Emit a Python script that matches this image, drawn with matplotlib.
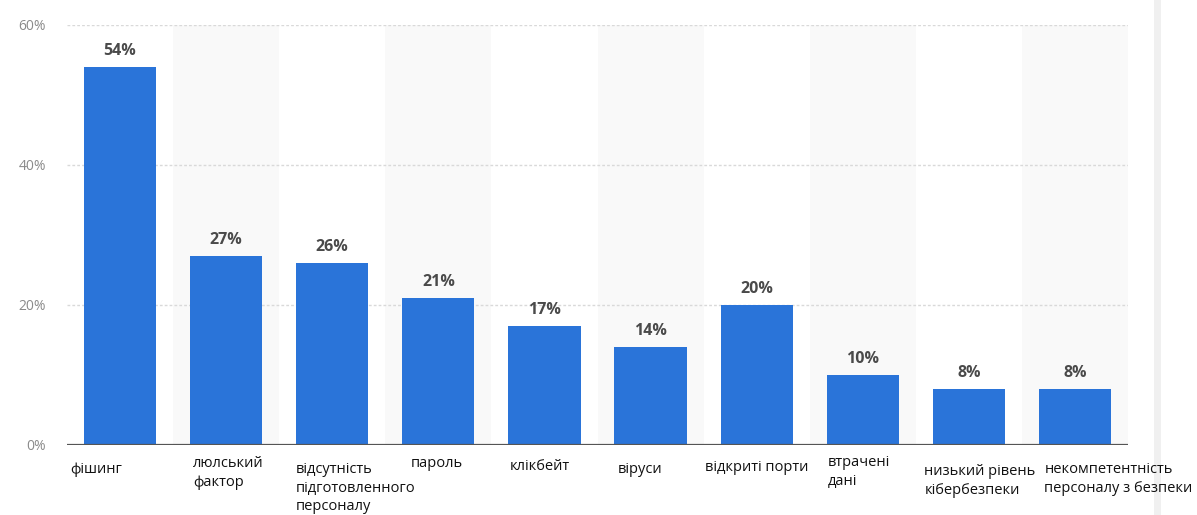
import matplotlib.pyplot as plt

plt.rcParams['font.family'] = ['Open Sans', 'DejaVu Sans']

# categories (Ukrainian labels) and values in percent
categories = [
    "фішинг",
    "люлський\nфактор",
    "відсутність\nпідготовленного\nперсоналу",
    "пароль",
    "клікбейт",
    "віруси",
    "відкриті порти",
    "втрачені\nдані",
    "низький рівень\nкібербезпеки",
    "некомпетентність\nперсоналу з безпеки",
]
values = [54, 27, 26, 21, 17, 14, 20, 10, 8, 8]
yticks = [0, 20, 40, 60]

# horizontal nudges (points) for the category labels, relative to bar left edge
label_dx = [-10, 2, 0, 6, 1, 2, -11, 1, -6, 4]
label_dy = [-1, 3, -1, 3, 1, -1, 0, 4, -3, -1]

fig = plt.figure(figsize=(11.97, 5.15), dpi=100)

# faint edge on the right of the screenshot (behind everything)
fig.add_artist(plt.Line2D([1157 / 1197, 1157 / 1197], [0, 1], color='#f0f0f0',
                          lw=5, transform=fig.transFigure, zorder=-5))

ax = fig.add_axes([67 / 1197, 70 / 515, (1128 - 67) / 1197, 420 / 515])
ax.patch.set_visible(False)

x = list(range(len(categories)))
bar_w = 0.68

# light alternating background bands
for i in x:
    if i % 2 == 1:
        ax.axvspan(i - 0.5, i + 0.5, color='#f9f9f9', zorder=0, lw=0)

# dotted grid
for t in yticks[1:]:
    ax.axhline(t, color='#d9d9d9', lw=1, ls=(0, (2, 1.5)), zorder=1)

ax.bar(x, values, width=bar_w, color='#2a74d9', zorder=2)
ax.axhline(0, color='#555555', lw=1.6, zorder=3)

# value labels above bars
for i, v in zip(x, values):
    ax.annotate(f"{v}%", (i, v), xytext=(0, 6), textcoords='offset points',
                ha='center', va='bottom', fontsize=11.5, fontweight='bold',
                color='#4a4a4a')

# category labels under the axis
for i, lab in enumerate(categories):
    ax.annotate(lab, (i - bar_w / 2, 0), xytext=(label_dx[i], -11 + label_dy[i]),
                textcoords='offset points', ha='left', va='top',
                fontsize=10.5, color='#111111', linespacing=1.35,
                annotation_clip=False)

ax.set_xlim(-0.5, len(categories) - 0.5)
ax.set_ylim(0, 60)
ax.set_yticks(yticks)
ax.set_yticklabels([f"{t}%" for t in yticks], fontsize=10, color='#8a8a8a')
ax.set_xticks([])
ax.tick_params(axis='y', length=0, pad=15)
for s in ax.spines.values():
    s.set_visible(False)

fig.savefig('out.png', dpi=100)
